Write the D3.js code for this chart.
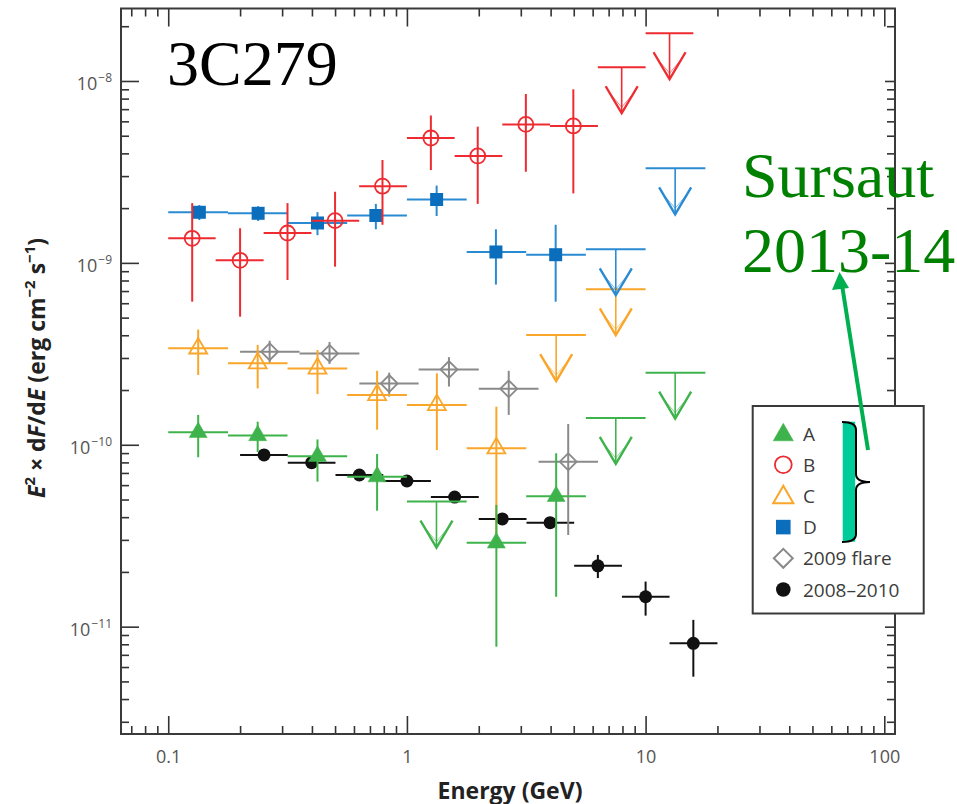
<!DOCTYPE html>
<html>
<head>
<meta charset="utf-8">
<script src="https://cdn.jsdelivr.net/npm/d3@7"></script>
<style>
body { margin: 0; background: #fff; }
</style>
</head>
<body>
<svg width="957" height="804"></svg>
<script>
// Energie en GeV, flux E2 dF/dE en erg cm-2 s-1

// periode A (triangles pleins)
var aE = [0.1335, 0.237, 0.422, 0.75, 2.37, 4.22];
var aLo = [0.1, 0.178, 0.316, 0.562, 1.78, 3.16];
var aHi = [0.178, 0.316, 0.562, 1.0, 3.16, 5.62];
var aF = [1.17e-10, 1.125e-10, 8.65e-11, 6.68e-11, 2.89e-11, 5.21e-11];
var aFhi = [1.46e-10, 1.34e-10, 1.07e-10, 8.9e-11, 4.67e-11, 8.98e-11];
var aFlo = [8.54e-11, 9.13e-11, 6.27e-11, 4.34e-11, 7.76e-12, 1.46e-11];
var aUlE = [1.33, 7.5, 13.3];
var aUlLo = [1.0, 5.62, 10];
var aUlHi = [1.78, 10, 17.8];
var aUlF = [4.87e-11, 1.404e-10, 2.49e-10];

// periode B (cercles vides)
var bE = [0.126, 0.2, 0.316, 0.5, 0.79, 1.26, 1.98, 3.15, 4.98];
var bLo = [0.1, 0.158, 0.251, 0.398, 0.631, 1.0, 1.585, 2.51, 3.98];
var bHi = [0.158, 0.251, 0.398, 0.631, 1.0, 1.585, 2.51, 3.98, 6.31];
var bF = [1.365e-9, 1.033e-9, 1.46e-9, 1.706e-9, 2.64e-9, 4.86e-9, 3.87e-9, 5.77e-9, 5.66e-9];
var bFhi = [2.13e-9, 1.55e-9, 2.13e-9, 2.46e-9, 3.68e-9, 6.46e-9, 5.61e-9, 8.48e-9, 9.0e-9];
var bFlo = [6.12e-10, 5.06e-10, 8.05e-10, 9.53e-10, 1.62e-9, 3.24e-9, 2.11e-9, 3.17e-9, 2.41e-9];
var bUlE = [7.94, 12.6];
var bUlLo = [6.31, 10];
var bUlHi = [10, 15.85];
var bUlF = [1.19e-8, 1.83e-8];

// periode C (triangles vides)
var cE = [0.1335, 0.237, 0.422, 0.75, 1.335, 2.37];
var cLo = [0.1, 0.178, 0.316, 0.562, 1.0, 1.78];
var cHi = [0.178, 0.316, 0.562, 1.0, 1.78, 3.16];
var cF = [3.39e-10, 2.81e-10, 2.63e-10, 1.88e-10, 1.655e-10, 9.57e-11];
var cFhi = [4.30e-10, 3.54e-10, 3.32e-10, 2.55e-10, 2.47e-10, 1.62e-10];
var cFlo = [2.42e-10, 2.04e-10, 1.90e-10, 1.21e-10, 9.36e-11, 2.88e-11];
var cUlE = [4.22, 7.5];
var cUlLo = [3.16, 5.62];
var cUlHi = [5.62, 10];
var cUlF = [4.01e-10, 7.16e-10];

// periode D (carres pleins)
var dE = [0.135, 0.238, 0.422, 0.741, 1.332, 2.36, 4.2];
var dLo = [0.1, 0.178, 0.316, 0.562, 1.0, 1.78, 3.16];
var dHi = [0.178, 0.316, 0.562, 1.0, 1.78, 3.16, 5.62];
var dF = [1.897e-9, 1.873e-9, 1.657e-9, 1.822e-9, 2.231e-9, 1.148e-9, 1.109e-9];
var dFhi = [2.08e-9, 2.05e-9, 1.90e-9, 2.11e-9, 2.66e-9, 1.53e-9, 1.62e-9];
var dFlo = [1.72e-9, 1.70e-9, 1.42e-9, 1.53e-9, 1.81e-9, 7.6e-10, 6.12e-10];
var dUlE = [7.5, 13.3];
var dUlLo = [5.62, 10];
var dUlHi = [10, 17.8];
var dUlF = [1.188e-9, 3.31e-9];

// eruption 2009 (losanges)
var gE = [0.266, 0.474, 0.843, 1.5, 2.67, 4.74];
var gLo = [0.2, 0.355, 0.632, 1.12, 2.0, 3.56];
var gHi = [0.355, 0.632, 1.12, 2.0, 3.56, 6.32];
var gF = [3.25e-10, 3.18e-10, 2.17e-10, 2.59e-10, 2.03e-10, 8.07e-11];
var gFhi = [3.73e-10, 3.67e-10, 2.49e-10, 3.03e-10, 2.55e-10, 1.30e-10];
var gFlo = [2.81e-10, 2.78e-10, 1.84e-10, 2.09e-10, 1.46e-10, 3.19e-11];

// moyenne 2008-2010 (points noirs)
var kE = [0.252, 0.399, 0.632, 1.0, 1.585, 2.51, 3.98, 6.31, 10, 15.85];
var kLo = [0.2, 0.317, 0.502, 0.796, 1.26, 2.0, 3.17, 5.02, 7.96, 12.6];
var kHi = [0.317, 0.502, 0.796, 1.26, 2.0, 3.17, 5.02, 7.96, 12.6, 20];
var kF = [8.79e-11, 7.97e-11, 6.82e-11, 6.32e-11, 5.16e-11, 3.91e-11, 3.73e-11, 2.16e-11, 1.46e-11, 8.1e-12];
var kFhi = [9.1e-11, 8.25e-11, 7.1e-11, 6.6e-11, 5.4e-11, 4.1e-11, 3.95e-11, 2.48e-11, 1.77e-11, 1.09e-11];
var kFlo = [8.5e-11, 7.7e-11, 6.55e-11, 6.05e-11, 4.92e-11, 3.72e-11, 3.52e-11, 1.85e-11, 1.15e-11, 5.31e-12];

// axes
var xTicks = [0.1, 1, 10, 100];
var xTickLabels = ["0.1", "1", "10", "100"];
var yTicks = [1e-8, 1e-9, 1e-10, 1e-11];
var yTickExps = ["\u22128", "\u22129", "\u221210", "\u221211"];
var legendLabels = ["A", "B", "C", "D", "2009 flare", "2008\u20132010"];

var svg = d3.select("svg");
var plotLeft = 121, plotRight = 895, plotTop = 8.5, plotBottom = 734;

var x = d3.scaleLog().domain([0.0634, 110.9]).range([plotLeft, plotRight]);
var y = d3.scaleLog().domain([2.57e-12, 2.503e-8]).range([plotBottom, plotTop]);

// petites graduations
var xMinor = [], yMinor = [];
for (var p = -2; p <= 1; p++) {
    for (var m = 2; m <= 9; m++) {
        var v = m * Math.pow(10, p);
        if (v > x.domain()[0] && v < x.domain()[1]) xMinor.push(v);
    }
}
for (var q = -12; q <= -8; q++) {
    for (var n = 2; n <= 9; n++) {
        var w = n * Math.pow(10, q);
        if (w > y.domain()[0] && w < y.domain()[1]) yMinor.push(w);
    }
}

var tickFont = "'Open Sans', 'DejaVu Sans', sans-serif";

function styleAxis(g) {
    g.select(".domain").remove();
    g.selectAll(".tick line").attr("stroke", "#333").attr("stroke-width", 1.6);
    g.selectAll(".tick text").attr("fill", "#555").attr("font-size", 18).attr("font-family", tickFont);
}

// bas
svg.append("g").attr("transform", "translate(0," + plotBottom + ")")
    .call(d3.axisBottom(x).tickValues(xTicks).tickSize(-18).tickPadding(16)
        .tickFormat(function(d, i) { return xTickLabels[i]; }))
    .call(styleAxis);
svg.append("g").attr("transform", "translate(0," + plotBottom + ")")
    .call(d3.axisBottom(x).tickValues(xMinor).tickSize(-8).tickFormat(""))
    .call(styleAxis);
// haut
svg.append("g").attr("transform", "translate(0," + plotTop + ")")
    .call(d3.axisTop(x).tickValues(xTicks).tickSize(-18).tickFormat(""))
    .call(styleAxis);
svg.append("g").attr("transform", "translate(0," + plotTop + ")")
    .call(d3.axisTop(x).tickValues(xMinor).tickSize(-8).tickFormat(""))
    .call(styleAxis);
// gauche
var yAxisG = svg.append("g").attr("transform", "translate(" + plotLeft + ",0)")
    .call(d3.axisLeft(y).tickValues(yTicks).tickSize(-18).tickPadding(9))
    .call(styleAxis);
yAxisG.selectAll(".tick text").each(function(d, i) {
    var t = d3.select(this);
    t.text("10").attr("dy", "0.5em");
    t.append("tspan").attr("dy", -8.5).attr("dx", 1).attr("font-size", 12).text(yTickExps[i]);
});
svg.append("g").attr("transform", "translate(" + plotLeft + ",0)")
    .call(d3.axisLeft(y).tickValues(yMinor).tickSize(-8).tickFormat(""))
    .call(styleAxis);
// droite
svg.append("g").attr("transform", "translate(" + plotRight + ",0)")
    .call(d3.axisRight(y).tickValues(yTicks).tickSize(-10).tickFormat(""))
    .call(styleAxis);
svg.append("g").attr("transform", "translate(" + plotRight + ",0)")
    .call(d3.axisRight(y).tickValues(yMinor).tickSize(-8).tickFormat(""))
    .call(styleAxis);

// cadre
svg.append("rect").attr("x", plotLeft).attr("y", plotTop).attr("width", plotRight - plotLeft).attr("height", plotBottom - plotTop)
    .attr("fill", "none").attr("stroke", "#3a3a3a").attr("stroke-width", 2);

// titres des axes
svg.append("text").attr("x", (plotLeft + plotRight) / 2 + 2).attr("y", 799).attr("text-anchor", "middle")
    .attr("font-family", tickFont).attr("font-weight", 700).attr("font-size", 23).attr("fill", "#222")
    .text("Energy (GeV)");

var yTitle = svg.append("text").attr("transform", "translate(45,368) rotate(-90)")
    .attr("text-anchor", "middle").attr("font-family", tickFont).attr("font-weight", 700)
    .attr("font-size", 23).attr("fill", "#222");
yTitle.append("tspan").attr("font-style", "italic").text("E");
yTitle.append("tspan").attr("dy", -10).attr("font-size", 15).text("2");
yTitle.append("tspan").attr("dy", 10).text(" \u00d7 d");
yTitle.append("tspan").attr("font-style", "italic").text("F");
yTitle.append("tspan").text("/d");
yTitle.append("tspan").attr("font-style", "italic").text("E");
yTitle.append("tspan").text(" (erg cm");
yTitle.append("tspan").attr("dy", -10).attr("font-size", 15).text("\u22122");
yTitle.append("tspan").attr("dy", 10).text(" s");
yTitle.append("tspan").attr("dy", -10).attr("font-size", 15).text("\u22121");
yTitle.append("tspan").attr("dy", 10).text(")");

// marqueurs
var triPath = d3.symbol(d3.symbolTriangle, 140)();
var sqPath = d3.symbol(d3.symbolSquare, 169)();

function drawMarker(g, kind, color, px, py, big) {
    var s = big ? 1.12 : 1;
    if (kind === "triFill" || kind === "triOpen") {
        g.append("path").attr("d", triPath).attr("transform", "translate(" + px + "," + py + ") scale(" + s + ")")
            .attr("fill", kind === "triFill" ? color : "none")
            .attr("stroke", color).attr("stroke-width", kind === "triFill" ? 0.5 : 1.8);
    } else if (kind === "circOpen") {
        g.append("circle").attr("cx", px).attr("cy", py).attr("r", 7.5 * s)
            .attr("fill", "none").attr("stroke", color).attr("stroke-width", 1.8);
    } else if (kind === "square") {
        g.append("path").attr("d", sqPath).attr("transform", "translate(" + px + "," + py + ") scale(" + s + ")")
            .attr("fill", color);
    } else if (kind === "diamond") {
        g.append("path").attr("d", sqPath).attr("transform", "translate(" + px + "," + py + ") rotate(45) scale(" + (0.92 * s) + ")")
            .attr("fill", "none").attr("stroke", color).attr("stroke-width", 1.8 / 0.92);
    } else if (kind === "dot") {
        g.append("circle").attr("cx", px).attr("cy", py).attr("r", 6.5 * s).attr("fill", color);
    }
}

function drawSeries(E, lo, hi, F, Flo, Fhi, lineColor, kind, markColor) {
    var g = svg.append("g");
    E.forEach(function(e, i) {
        g.append("line").attr("x1", x(lo[i])).attr("x2", x(hi[i])).attr("y1", y(F[i])).attr("y2", y(F[i]))
            .attr("stroke", lineColor).attr("stroke-width", 2);
        g.append("line").attr("x1", x(e)).attr("x2", x(e)).attr("y1", y(Fhi[i])).attr("y2", y(Flo[i]))
            .attr("stroke", lineColor).attr("stroke-width", 2);
        drawMarker(g, kind, markColor, x(e), y(F[i]), false);
    });
}

// limites superieures : barre + fleche vers le bas
function drawLimits(E, lo, hi, F, color) {
    var g = svg.append("g").attr("fill", "none").attr("stroke", color);
    E.forEach(function(e, i) {
        var px = x(e), py = y(F[i]);
        g.append("line").attr("x1", x(lo[i])).attr("x2", x(hi[i])).attr("y1", py).attr("y2", py).attr("stroke-width", 2);
        g.append("line").attr("x1", px).attr("x2", px).attr("y1", py).attr("y2", py + 45).attr("stroke-width", 1.6);
        g.append("path").attr("d", "M" + (px - 16) + "," + (py + 19) + "L" + px + "," + (py + 46) + "L" + (px + 16) + "," + (py + 19))
            .attr("stroke-width", 2.4).attr("stroke-linejoin", "miter");
        g.append("path").attr("d", "M" + (px - 11) + "," + (py + 27) + "L" + px + "," + (py + 40) + "L" + (px + 11) + "," + (py + 27))
            .attr("stroke-width", 1).attr("opacity", 0.6);
    });
}

var green = "#3fb34b", red = "#ee2b30", orange = "#f9a62a", blueLine = "#2a8bd3", blue = "#0a6ebd", grey = "#8a8a8a", black = "#111";

drawSeries(kE, kLo, kHi, kF, kFlo, kFhi, black, "dot", black);
drawSeries(gE, gLo, gHi, gF, gFlo, gFhi, grey, "diamond", grey);
drawSeries(cE, cLo, cHi, cF, cFlo, cFhi, orange, "triOpen", orange);
drawLimits(cUlE, cUlLo, cUlHi, cUlF, orange);
drawSeries(aE, aLo, aHi, aF, aFlo, aFhi, green, "triFill", green);
drawLimits(aUlE, aUlLo, aUlHi, aUlF, green);
drawSeries(dE, dLo, dHi, dF, dFlo, dFhi, blueLine, "square", blue);
drawLimits(dUlE, dUlLo, dUlHi, dUlF, blueLine);
drawSeries(bE, bLo, bHi, bF, bFlo, bFhi, red, "circOpen", red);
drawLimits(bUlE, bUlLo, bUlHi, bUlF, red);

// legende
svg.append("rect").attr("x", 752.7).attr("y", 406).attr("width", 171).attr("height", 207.5)
    .attr("fill", "#fff").attr("stroke", "#3a3a3a").attr("stroke-width", 2);
var legendKinds = ["triFill", "circOpen", "triOpen", "square", "diamond", "dot"];
var legendColors = [green, red, orange, blue, grey, black];
legendLabels.forEach(function(lab, i) {
    var ly = 433.5 + i * 31.2;
    drawMarker(svg, legendKinds[i], legendColors[i], 783.3, ly + (i === 0 || i === 2 ? 1.5 : 0), true);
    svg.append("text").attr("x", 803).attr("y", ly + 7).attr("font-family", tickFont).attr("font-size", 19)
        .attr("fill", "#3c3c3c").text(lab);
});

// accolade sur A-D
svg.append("rect").attr("x", 842.7).attr("y", 421.7).attr("width", 12.5).attr("height", 120).attr("fill", "#00cc99");
svg.append("path").attr("d", "M842,422 Q856,422 856,430 L856,474 Q856,482 870,482 Q856,482 856,490 L856,534 Q856,542 842,542")
    .attr("fill", "none").attr("stroke", "#000").attr("stroke-width", 2);

// annotations
svg.append("text").attr("x", 167).attr("y", 85).attr("font-family", "'Liberation Serif', 'Times New Roman', serif")
    .attr("font-size", 64).attr("fill", "#000").text("3C279");
svg.append("text").attr("x", 742).attr("y", 197).attr("font-family", "'Liberation Serif', 'Times New Roman', serif")
    .attr("font-size", 64).attr("fill", "#008000").text("Sursaut");
svg.append("text").attr("x", 742).attr("y", 272).attr("font-family", "'Liberation Serif', 'Times New Roman', serif")
    .attr("font-size", 64).attr("fill", "#008000").text("2013-14");

var arrowColor = "#00b050";
svg.append("line").attr("x1", 868).attr("y1", 450).attr("x2", 842.5).attr("y2", 288)
    .attr("stroke", arrowColor).attr("stroke-width", 4);
svg.append("path").attr("d", "M839.5,272 L832,290 L849,288 Z").attr("fill", arrowColor);
</script>
</body>
</html>
